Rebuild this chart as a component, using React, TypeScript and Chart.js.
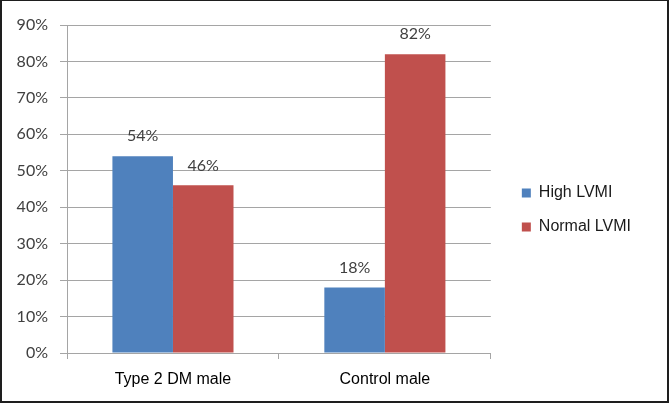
import React, { useEffect, useRef } from "react";
import { Chart, registerables } from "chart.js";

Chart.register(...registerables);

const categories = ["Type 2 DM male", "Control male"];
const seriesNames = ["High LVMI", "Normal LVMI"];
const highLVMI = [54, 18];
const normalLVMI = [46, 82];
const yTicks = [0, 10, 20, 30, 40, 50, 60, 70, 80, 90];

const valueLabels = {
  id: "valueLabels",
  afterDatasetsDraw(chart: any) {
    const ctx = chart.ctx;
    ctx.save();
    ctx.font = "16px Lato";
    ctx.fillStyle = "#404040";
    ctx.textAlign = "center";
    ctx.textBaseline = "middle";
    chart.data.datasets.forEach((ds: any, i: number) => {
      const meta = chart.getDatasetMeta(i);
      meta.data.forEach((el: any, j: number) => {
        ctx.fillText(ds.data[j] + "%", el.x, el.y - 20);
      });
    });
    ctx.restore();
  },
};

export default function App() {
  const ref = useRef<HTMLCanvasElement | null>(null);
  useEffect(() => {
    if (!ref.current) return;
    const chart = new Chart(ref.current, {
      type: "bar",
      data: {
        labels: categories,
        datasets: [
          { label: seriesNames[0], data: highLVMI, backgroundColor: "#4f81bd", categoryPercentage: 0.5714, barPercentage: 1 },
          { label: seriesNames[1], data: normalLVMI, backgroundColor: "#c0504d", categoryPercentage: 0.5714, barPercentage: 1 },
        ],
      },
      options: {
        animation: false,
        responsive: false,
        maintainAspectRatio: false,
        layout: { padding: { top: 24, right: 26, bottom: 6, left: 0 } },
        plugins: {
          tooltip: { enabled: false },
          legend: {
            position: "right",
            maxWidth: 220,
            labels: {
              boxWidth: 9,
              boxHeight: 9,
              padding: 18,
              color: "#1a1a1a",
              font: { family: "'Liberation Sans', Arial, sans-serif", size: 16 },
            },
          },
        },
        scales: {
          x: {
            grid: { drawOnChartArea: false, tickLength: 6, color: "#a5a5a5", offset: true },
            border: { color: "#a5a5a5" },
            ticks: {
              color: "#000000",
              padding: 11,
              font: { family: "'Liberation Sans', Arial, sans-serif", size: 16 },
            },
            afterFit: (s: any) => { s.height = 42; },
          },
          y: {
            min: 0,
            max: 90,
            afterBuildTicks: (s: any) => { s.ticks = yTicks.map((v) => ({ value: v })); },
            grid: { color: "#a5a5a5", tickLength: 7 },
            border: { color: "#a5a5a5" },
            ticks: {
              color: "#404040",
              padding: 12,
              font: { family: "Lato", size: 16 },
              callback: (v: any) => v + "%",
            },
            afterFit: (s: any) => { s.width = 65; },
          },
          spacer: {
            type: "linear",
            position: "right",
            display: true,
            grid: { display: false },
            border: { display: false },
            ticks: { display: false },
            afterFit: (s: any) => { s.width = 13; },
          },
        },
      },
      plugins: [valueLabels],
    } as any);
    return () => chart.destroy();
  }, []);
  return (
    <div
      style={{
        position: "fixed",
        left: 0,
        top: 0,
        width: 669,
        height: 403,
        boxSizing: "border-box",
        borderStyle: "solid",
        borderColor: "#1e1e1e",
        borderWidth: "1px 2px 2px 2px",
        background: "#fff",
      }}
    >
      <canvas ref={ref} width={665} height={400} style={{ display: "block" }} />
    </div>
  );
}
